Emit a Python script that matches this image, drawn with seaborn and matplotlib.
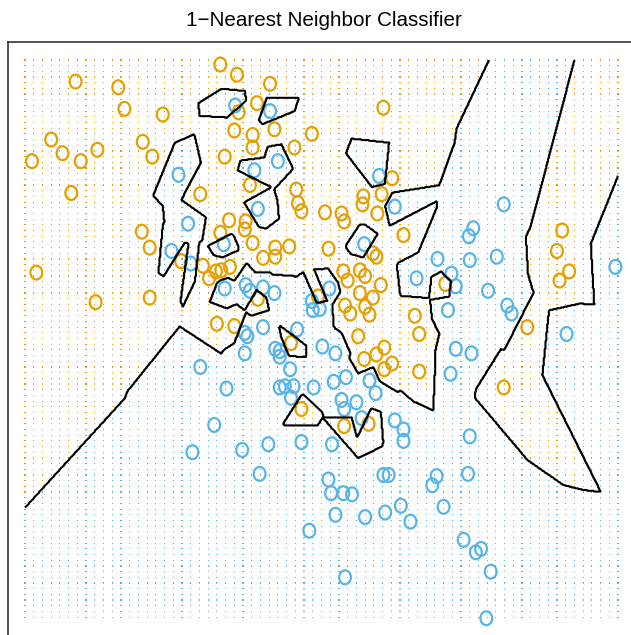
import numpy as np
import pandas as pd
import matplotlib
matplotlib.use("Agg")
import matplotlib.pyplot as plt
import seaborn as sns
from matplotlib.path import Path
from matplotlib.transforms import Affine2D

# ---------------- data ----------------
title = "1\u2212Nearest Neighbor Classifier"
class_names = ["orange", "blue"]
class_colors = ["#E69F00", "#56B4E9"]

orange_x1 = [-2.02, -1.53, -1.46, -1.02, -0.36, -2.30, -2.17, -2.52, -1.96, -1.77,
             -1.25, -1.14, -2.07, -0.59, -1.26, -1.17, -0.17, 0.21, 0.06, -0.15,
             -0.20, 0.01, 0.01, 0.26, 0.69, 0.49, -0.31, 1.51, -0.02, 0.51,
             0.53, 0.57, 0.84, 1.03, 1.06, 1.61, 1.28, 1.27, 1.49, 1.44,
             -0.26, -0.07, -0.08, -0.36, 1.74, 0.01, -2.47, -1.79, -1.17, -0.81,
             -0.56, -0.49, -0.41, -0.35, -0.25, -0.40, 0.27, 0.27, 0.13, 0.43,
             0.88, 1.39, 1.43, 0.07, 0.76, 1.05, 1.10, 1.24, 1.30, 1.48,
             1.24, 1.39, 1.07, 1.13, 1.30, 1.35, 1.87, 1.92, 1.22, -0.20,
             0.45, 1.29, 1.43, 1.52, 1.52, 1.61, 1.92, 0.57, 1.06, 1.34,
             3.50, 3.64, 3.53, 2.22, 3.16, 2.89, 3.56]
orange_x2 = [2.71, 2.66, 2.47, 2.42, 2.86, 2.20, 2.08, 2.01, 2.01, 2.11,
             2.18, 2.05, 1.73, 1.72, 1.39, 1.25, 2.77, 2.69, 2.52, 2.44,
             2.28, 2.24, 2.13, 2.29, 2.25, 2.13, 2.05, 2.48, 1.80, 1.76,
             1.64, 1.57, 1.56, 1.55, 1.48, 1.86, 1.70, 1.63, 1.72, 1.55,
             1.49, 1.48, 1.41, 1.38, 1.36, 1.29, 1.03, 0.77, 0.81, 1.13,
             1.09, 0.98, 1.04, 1.05, 1.08, 0.58, 1.25, 1.17, 1.16, 1.26,
             1.24, 1.20, 1.17, 0.80, 0.82, 1.04, 0.96, 1.05, 1.00, 0.92,
             0.85, 0.81, 0.74, 0.67, 0.73, 0.66, 0.65, 0.49, 0.47, 0.56,
             0.41, 0.27, 0.31, 0.37, 0.18, 0.23, 0.16, -0.17, -0.32, -0.30,
             1.22, 1.04, 0.96, 0.93, 0.55, 0.02, 1.40]

blue_x1 = [-0.84, -0.73, -0.19, 0.21, 0.30, 0.03, 0.07, 1.46, 1.64, 1.29,
           -0.32, 2.89, 2.54, 2.49, -0.92, -0.70, -0.59, -0.43, -0.31, -0.07,
           -0.02, 0.13, 0.26, 0.89, 0.69, 0.70, 0.78, -0.08, -0.05, 0.13,
           0.52, -0.08, 0.27, 0.32, 0.32, 0.44, 0.81, 0.96, -0.29, 0.32,
           0.38, 0.48, 0.45, 0.71, 0.94, 1.08, 1.35, 1.42, 1.03, 1.06,
           1.20, 1.26, 1.64, 1.74, 1.89, 0.57, 2.13, 2.50, 2.81, 2.29,
           2.34, 2.71, 2.93, 2.98, 2.25, 4.17, 3.61, 2.34, 2.52, 2.28,
           2.50, -0.68, -0.11, 0.19, 0.92, 1.74, 0.09, 0.88, 0.91, 1.05,
           1.15, 1.51, 1.57, 0.96, 1.30, 1.53, 1.71, 1.82, 0.66, 1.07,
           2.12, 2.07, 2.48, 2.20, 2.43, 2.57, 2.63, 2.74, 2.69]
blue_x2 = [1.89, 1.46, 2.50, 2.45, 2.01, 1.93, 1.59, 1.88, 1.61, 1.28,
           1.28, 1.63, 1.42, 1.35, 1.22, 1.11, 0.20, -0.31, 0.89, 0.92,
           0.87, 0.90, 0.85, 0.89, 0.78, 0.70, 0.71, 0.50, 0.47, 0.55,
           0.53, 0.32, 0.36, 0.34, 0.29, 0.18, 0.38, 0.32, 0.01, 0.02,
           0.03, 0.03, -0.07, 0.02, 0.07, 0.11, 0.08, -0.03, -0.09, -0.17,
           -0.11, -0.25, -0.27, -0.35, 0.98, -0.46, 1.15, 1.14, 1.17, 1.02,
           0.91, 0.87, 0.74, 0.67, 0.70, 1.08, 0.49, 0.36, 0.32, 0.14,
           -0.41, -0.55, -0.53, -0.48, -0.48, -0.45, -0.74, -0.79, -0.91, -0.91,
           -0.92, -0.75, -0.75, -1.10, -1.12, -1.08, -1.02, -1.16, -1.24, -1.65,
           -0.76, -0.84, -0.74, -1.03, -1.32, -1.43, -1.40, -1.60, -2.01]

# prediction grid (as in the ESL mixture example)
grid_x1 = np.linspace(-2.6, 4.2, 69)
grid_x2 = np.linspace(-2.0, 2.9, 99)

# ---------------- tables ----------------
train = pd.DataFrame({
    "x1": orange_x1 + blue_x1,
    "x2": orange_x2 + blue_x2,
    "cls": [class_names[0]] * len(orange_x1) + [class_names[1]] * len(blue_x1),
})
tpts = train[["x1", "x2"]].to_numpy()
t_blue = (train["cls"].to_numpy() == class_names[1]).astype(float)


def nn_blue(px, py):
    best = np.full(px.shape, np.inf)
    lab = np.zeros(px.shape)
    for (tx, ty), b in zip(tpts, t_blue):
        d = (px - tx) ** 2 + (py - ty) ** 2
        m = d < best
        best[m] = d[m]
        lab[m] = b
    return lab


gx, gy = np.meshgrid(grid_x1, grid_x2)
g_blue = nn_blue(gx, gy)
grid = pd.DataFrame({"x1": gx.ravel(), "x2": gy.ravel(),
                     "cls": np.where(g_blue.ravel() > 0.5, class_names[1], class_names[0])})
palette = dict(zip(class_names, class_colors))

# fine grid for the decision boundary
fx, fy = np.meshgrid(np.linspace(grid_x1[0], grid_x1[-1], 700),
                     np.linspace(grid_x2[0], grid_x2[-1], 700))
f_blue = nn_blue(fx, fy)

# ---------------- plot ----------------
sns.set_style("white")
plt.rcParams["font.family"] = ["Liberation Sans", "DejaVu Sans"]

W, H = 631, 635
fig = plt.figure(figsize=(W / 100, H / 100), dpi=100)
ax = fig.add_axes([8 / W, -1 / H, 627 / W, 594 / H])

sns.scatterplot(data=grid, x="x1", y="x2", hue="cls", palette=palette,
                marker="s", s=0.7, linewidth=0, legend=False, ax=ax)

ax.contour(fx, fy, f_blue, levels=[0.5], colors="black", linewidths=1.5)

ell = Affine2D().scale(0.85, 1.0).transform_path(Path.unit_circle())
sns.scatterplot(data=train, x="x1", y="x2", hue="cls", palette=palette,
                marker=ell, s=100, linewidth=1.6, legend=False, ax=ax)
coll = ax.collections[-1]
coll.set_edgecolors(coll.get_facecolors())
coll.set_facecolors("none")

ax.set_xlim(-2.795, 4.395)
ax.set_ylim(-2.166, 3.058)
ax.set_xticks([])
ax.set_yticks([])
ax.set_xlabel("")
ax.set_ylabel("")
for sp in ax.spines.values():
    sp.set_visible(True)
    sp.set_color("#333333")
    sp.set_linewidth(1.2)

fig.text(323.5 / W, 1 - 26.5 / H, title, ha="center", va="baseline",
         fontsize=14.9, color="black")

fig.savefig("out.png", dpi=100)
